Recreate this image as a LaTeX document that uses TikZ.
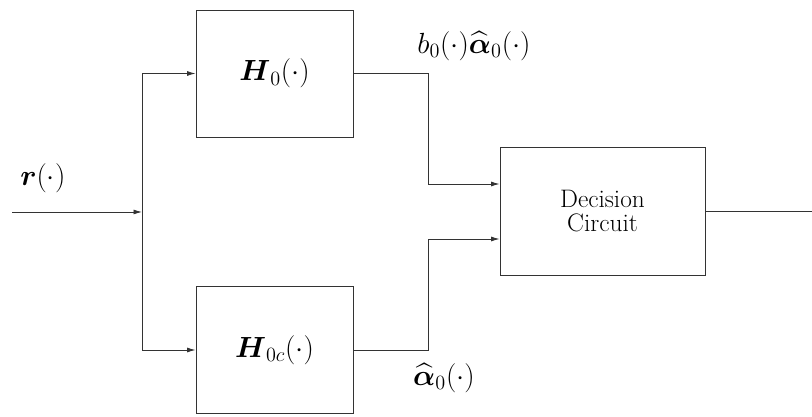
\documentclass[tikz,border=0pt]{standalone}
\usepackage{amsmath}
\usetikzlibrary{arrows.meta}
\begin{document}
\begin{tikzpicture}[font=\fontsize{18}{20}\selectfont,
        blocco/.style={draw=black!80, minimum width=3.925cm, minimum height=3.175cm, align=center},
        formula/.style={font=\fontsize{19.5}{23}\selectfont},
        freccia/.style={-{Latex[length=6pt,width=3.5pt]}}]

        % Stile globale per le linee
        \tikzstyle{every path}=[semithick]

        % Area totale del disegno
        \useasboundingbox (0,0) rectangle (20.3,10.425);

        % Blocchi principali
        \node[blocco, font=\fontsize{21}{25}\selectfont] (h0) at (6.8625, 8.5875) {$\boldsymbol{H}_0(\cdot)$};
        \node[blocco, font=\fontsize{21}{25}\selectfont] (h0c) at (6.8625, 1.675) {$\boldsymbol{H}_{0c}(\cdot)$};
        \node[blocco, minimum width=5.125cm, minimum height=3.2cm] (dc) at (15.0625, 5.15) {Decision\\[-3pt]Circuit};

        % Punti di ingresso, uscita e diramazione
        \coordinate (in) at (0.3, 5.125);
        \coordinate (split) at (3.55, 5.125);
        \coordinate (out) at (20.3, 5.15);

        % Ingresso e diramazione verso i due filtri
        \draw[freccia, black!80] (in) -- (split);
        \draw[freccia, black!80] (split) |- (h0.west);
        \draw[freccia, black!80] (split) |- (h0c.west);

        % Uscite dei filtri verso il circuito di decisione
        \draw[freccia, black!80] (h0.east) -| (10.7, 5.825) -- (dc.west |- 0, 5.825);
        \draw[freccia, black!80] (h0c.east) -| (10.7, 4.45) -- (dc.west |- 0, 4.45);

        % Uscita finale
        \draw[black!80] (dc.east) -- (out);

        % Etichette dei segnali
        \node[formula] (lr) at (1.07, 5.975) {$\boldsymbol{r}(\cdot)$};
        \node[formula] (lb) at (11.85, 9.28) {$b_0(\cdot)\widehat{\boldsymbol{\alpha}}_0(\cdot)$};
        \node[formula] (la) at (11.1, 0.975) {$\widehat{\boldsymbol{\alpha}}_0(\cdot)$};

    \end{tikzpicture}
\end{document}
